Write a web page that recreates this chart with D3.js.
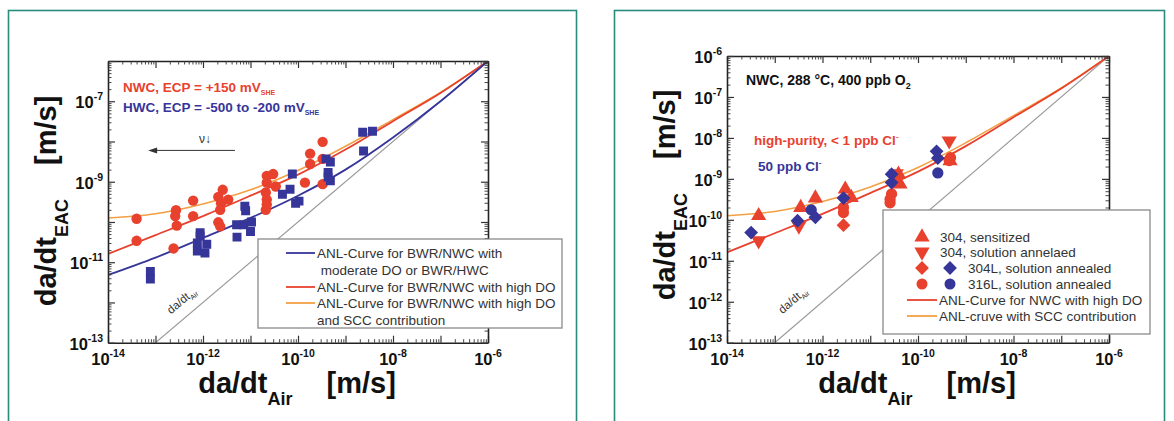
<!DOCTYPE html>
<html>
<head>
<meta charset="utf-8">
<script src="https://cdn.jsdelivr.net/npm/d3@7"></script>
<style>
body{margin:0;background:#fff;}
svg{display:block;font-family:"Liberation Sans",Arial,sans-serif;}
</style>
</head>
<body>
<script>
// values, in m/s
// left panel: crack growth data, NWC (red circles) and HWC (blue squares)
const nwcAir = [4.0e-14,4.0e-14,2.7e-13,2.6e-13,2.8e-13,2.4e-13,6.2e-13,6.2e-13,2.6e-12,2.1e-12,2.4e-12,2.3e-12,2.1e-12,2.3e-12,3.4e-12,
  2.2e-11,3.0e-11,2.1e-11,2.2e-11,2.2e-11,2.1e-11,3.4e-11,2.2e-11,1.8e-10,1.8e-10,1.4e-10,3.3e-10,3.3e-10,3.3e-10];
const nwcEac = [1.2e-10,3.4e-11,1.95e-10,1.4e-10,8.1e-11,2.2e-11,3.4e-10,1.4e-10,6.3e-10,4.2e-10,2.9e-10,2.0e-10,9.8e-11,7.8e-11,3.6e-10,
  1.4e-9,1.55e-9,5.4e-10,3.6e-10,2.7e-10,2.0e-10,7.6e-10,9.5e-10,5.0e-9,2.75e-9,9.5e-10,9.8e-9,3.7e-9,8.7e-10];
const hwcAir = [7.8e-14,7.8e-14,8.7e-13,8.7e-13,7.6e-13,7.6e-13,1.2e-12,1.1e-12,5.1e-12,5.2e-12,7.6e-12,7.9e-12,7.2e-12,1.05e-11,1.0e-11,
  4.7e-11,6.8e-11,7.6e-11,8.9e-11,1.05e-10,3.9e-10,4.8e-10,4.3e-10,4.3e-10,4.8e-10,2.3e-9,3.7e-9,2.4e-9];
const hwcEac = [5.9e-12,3.8e-12,5.4e-11,4.5e-11,3.0e-11,1.9e-11,2.8e-11,1.7e-11,8.5e-11,4.2e-11,2.45e-10,1.9e-10,8.5e-11,1.0e-10,5.8e-11,
  4.9e-10,6.5e-10,1.55e-9,2.9e-10,3.3e-10,3.7e-9,3.1e-9,1.7e-9,1.3e-9,1.05e-9,1.7e-8,1.8e-8,5.8e-9];

// ANL curves (read at each decade of da/dt_Air)
const curveAir = [1e-14,1e-13,1e-12,1e-11,1e-10,1e-9,1e-8,1e-7,1e-6];
const anlModerate = [4.8e-12,1.3e-11,4.0e-11,1.26e-10,4.5e-10,2.0e-9,1.26e-8,1.0e-7,1e-6];
const anlHighDO = [1.6e-11,4.7e-11,1.4e-10,4.5e-10,1.5e-9,6.3e-9,3.2e-8,1.6e-7,1e-6];
const anlSCC = [1.26e-10,1.6e-10,2.8e-10,6.3e-10,1.9e-9,7.6e-9,3.5e-8,1.66e-7,1e-6];
const diagLine = [1e-13,1e-6];

// right panel: 400 ppb O2 data
const s304sensAir = [4.6e-14,3.5e-13,7.1e-13,3.0e-12,4.0e-12,3.9e-11,4.2e-11,4.7e-10];
const s304sensEac = [1.26e-10,2.0e-10,3.4e-10,5.6e-10,3.5e-10,1.3e-9,7.4e-10,2.75e-9];
const s304solAir = [4.6e-14,3.2e-13,3.5e-11,4.5e-10];
const s304solEac = [3.1e-11,7.1e-11,1.35e-9,8.5e-9];
const s304LredAir = [2.75e-12];
const s304LredEac = [7.4e-11];
const s316LredAir = [2.75e-12,2.75e-12,2.8e-11,2.6e-11,2.6e-11,4.8e-10,4.5e-10];
const s316LredEac = [2.0e-10,1.5e-10,4.3e-10,3.2e-10,2.6e-10,3.3e-9,2.8e-9];
const s304LblueAir = [3.2e-14,3.0e-13,7.1e-13,2.75e-12,2.8e-11,2.8e-11,2.45e-10,2.6e-10];
const s304LblueEac = [4.9e-11,9.5e-11,1.15e-10,3.4e-10,1.3e-9,8.1e-10,4.7e-9,3.2e-9];
const s316LblueAir = [5.8e-13,2.6e-10];
const s316LblueEac = [1.75e-10,1.4e-9];

const leftXTicks = [1e-14,1e-12,1e-10,1e-8,1e-6];
const leftYTicks = [1e-13,1e-11,1e-9,1e-7];
const rightXTicks = [1e-14,1e-12,1e-10,1e-8,1e-6];
const rightYTicks = [1e-13,1e-12,1e-11,1e-10,1e-9,1e-8,1e-7,1e-6];

const RED = "#e8412e", BLUE = "#36359a", ORANGE = "#f2a043", GRAY = "#9a9a9a";

const svg = d3.select("body").append("svg").attr("width",1174).attr("height",421);

// teal frames
svg.append("rect").attr("x",8.5).attr("y",10.5).attr("width",568).attr("height",430)
  .attr("fill","#fff").attr("stroke","#2a8c7c").attr("stroke-width",1.6);
svg.append("rect").attr("x",614.5).attr("y",10.5).attr("width",550).attr("height",430)
  .attr("fill","#fff").attr("stroke","#2a8c7c").attr("stroke-width",1.6);

function decades(a,b){ const r=[]; for(let e=a;e<=b;e++) r.push(Math.pow(10,e)); return r; }
function minors(a,b){ const r=[]; for(let e=a;e<b;e++) for(let k=2;k<=9;k++) r.push(k*Math.pow(10,e)); return r; }
function expo(d){ return Math.round(Math.log10(d)); }

function powLabel(t,d,sup){
  t.append("tspan").text("10");
  t.append("tspan").attr("dy",-8).attr("font-size",sup).text(expo(d));
}

function makePanel(p){
  const g = svg.append("g").attr("transform",`translate(${p.x0},${p.y0})`);
  const w = p.x1-p.x0, h = p.y1-p.y0;
  const x = d3.scaleLog().domain([1e-14,1e-6]).range([0,w]);
  const y = d3.scaleLog().domain([1e-13,1e-6]).range([h,0]);

  const clipId = "clip"+p.id;
  g.append("clipPath").attr("id",clipId).append("rect").attr("width",w).attr("height",h);
  const plot = g.append("g").attr("clip-path",`url(#${clipId})`);

  // ticks on all sides, inward
  const xMaj = decades(-14,-6), yMaj = decades(-13,-6);
  const xMin = minors(-14,-6), yMin = minors(-13,-6);
  const axes = [
    [d3.axisBottom, x, xMaj, xMin, `translate(0,${h})`],
    [d3.axisTop, x, xMaj, xMin, "translate(0,0)"],
    [d3.axisLeft, y, yMaj, yMin, "translate(0,0)"],
    [d3.axisRight, y, yMaj, yMin, `translate(${w},0)`]
  ];
  axes.forEach(([ax,s,maj,mn,tr])=>{
    const a1 = g.append("g").attr("transform",tr)
      .call(ax(s).tickValues(mn).tickSize(-3.5).tickSizeOuter(0).tickFormat(""));
    a1.select(".domain").attr("stroke","#222").attr("stroke-width",1.6);
    a1.selectAll(".tick line").attr("stroke","#333").attr("stroke-width",0.9);
    const a2 = g.append("g").attr("transform",tr)
      .call(ax(s).tickValues(maj).tickSize(-7).tickSizeOuter(0).tickFormat(""));
    a2.select(".domain").remove();
    a2.selectAll(".tick line").attr("stroke","#333").attr("stroke-width",1.2);
  });

  // tick labels
  g.selectAll(".xlab").data(p.xTicks).join("text").attr("class","xlab")
    .attr("x",d=>x(d)).attr("y",h+22).attr("text-anchor","middle")
    .attr("font-size",16.5).attr("font-weight","bold").attr("fill","#111")
    .each(function(d){ powLabel(d3.select(this),d,10.5); });
  g.selectAll(".ylab").data(p.yTicks).join("text").attr("class","ylab")
    .attr("x",-5).attr("y",d=>y(d)+7).attr("text-anchor","end")
    .attr("font-size",16.5).attr("font-weight","bold").attr("fill","#111")
    .each(function(d){ powLabel(d3.select(this),d,10.5); });

  // axis titles
  const xt = g.append("text").attr("x",w/2+p.xtShift).attr("y",h+50).attr("text-anchor","middle")
    .attr("font-size",29).attr("font-weight","bold").attr("fill","#111");
  xt.append("tspan").text("da/dt");
  xt.append("tspan").attr("font-size",18).attr("dy",12).text("Air");
  xt.append("tspan").attr("dy",-12).attr("dx",34).text("[m/s]");
  const yt = g.append("text").attr("transform",`translate(${p.ytx},${p.yty}) rotate(-90)`)
    .attr("text-anchor","middle").attr("font-size",29).attr("font-weight","bold").attr("fill","#111");
  yt.append("tspan").text("da/dt");
  yt.append("tspan").attr("font-size",18).attr("dy",12).text("EAC");
  yt.append("tspan").attr("dy",-12).attr("dx",34).text("[m/s]");

  // reference line da/dt_EAC = da/dt_Air
  plot.append("path").datum(diagLine).attr("fill","none").attr("stroke",GRAY).attr("stroke-width",1.2)
    .attr("d",d3.line().x(d=>x(d)).y(d=>y(d)));
  const dl = x(p.diagLab[0]), dly = y(p.diagLab[1]);
  const ang = -Math.atan(( y(1e-13)-y(1e-12) )/( x(1e-12)-x(1e-13) ))*180/Math.PI;
  const dt = g.append("text").attr("transform",`translate(${dl},${dly}) rotate(${ang})`)
    .attr("text-anchor","middle").attr("font-size",11.5).attr("fill","#333");
  dt.append("tspan").text("da/dt");
  dt.append("tspan").attr("font-size",7).attr("dy",3).text("Air");

  return {g,plot,x,y,w,h};
}

function curve(P,xs,ys,color,wid){
  const pts = xs.map((d,i)=>[d,ys[i]]);
  P.plot.append("path").datum(pts).attr("fill","none").attr("stroke",color).attr("stroke-width",wid)
    .attr("d",d3.line().x(d=>P.x(d[0])).y(d=>P.y(d[1])).curve(d3.curveMonotoneX));
}

function marks(P,xs,ys,type,size,color,rot){
  const pts = xs.map((d,i)=>[d,ys[i]]);
  P.plot.selectAll(null).data(pts).join("path")
    .attr("transform",d=>`translate(${P.x(d[0])},${P.y(d[1])}) rotate(${rot||0})`)
    .attr("d",d3.symbol().type(type).size(size)).attr("fill",color);
}

// ---------- left panel ----------
const L = makePanel({id:"L",x0:108,x1:488,y0:61,y1:342.7,xTicks:leftXTicks,yTicks:leftYTicks,
  xtShift:-1,ytx:-52,yty:140,diagLab:[4.0e-13,9.5e-13]});
curve(L,curveAir,anlSCC,ORANGE,1.6);
curve(L,curveAir,anlHighDO,RED,1.8);
curve(L,curveAir,anlModerate,BLUE,1.8);
marks(L,nwcAir,nwcEac,d3.symbolCircle,85,RED);
marks(L,hwcAir,hwcEac,d3.symbolSquare,80,BLUE);

// arrow and notes
const ax0 = L.x(4.7e-12), ax1 = L.x(7e-14), ay = L.y(6e-9);
L.g.append("line").attr("x1",ax0).attr("x2",ax1+6).attr("y1",ay).attr("y2",ay).attr("stroke","#333").attr("stroke-width",1);
L.g.append("path").attr("d",`M${ax1},${ay}L${ax1+9},${ay-3}L${ax1+9},${ay+3}Z`).attr("fill","#333");
L.g.append("text").attr("x",L.x(1.1e-12)).attr("y",ay-7).attr("text-anchor","middle").attr("font-size",12).attr("fill","#333").text("ν↓");

const n1 = L.g.append("text").attr("x",15).attr("y",31).attr("font-size",13.5).attr("font-weight","bold").attr("fill",RED);
n1.append("tspan").text("NWC, ECP = +150 mV");
n1.append("tspan").attr("font-size",7).attr("dy",3).text("SHE");
const n2 = L.g.append("text").attr("x",15).attr("y",51).attr("font-size",13.5).attr("font-weight","bold").attr("fill",BLUE);
n2.append("tspan").text("HWC, ECP = -500 to -200 mV");
n2.append("tspan").attr("font-size",7).attr("dy",3).text("SHE");

// left legend
const lg = svg.append("g").attr("transform","translate(258,239)");
lg.append("rect").attr("width",304).attr("height",89).attr("fill","#fff").attr("stroke","#8a8a8a").attr("stroke-width",1.3);
const leftLegend = [
  {c:BLUE, y:14, lines:["ANL-Curve for BWR/NWC with"," moderate DO or BWR/HWC"]},
  {c:RED, y:48, lines:["ANL-Curve for BWR/NWC with high DO"]},
  {c:ORANGE, y:64, lines:["ANL-Curve for BWR/NWC with high DO","and SCC contribution"]}
];
leftLegend.forEach(e=>{
  lg.append("line").attr("x1",28).attr("x2",57).attr("y1",e.y).attr("y2",e.y).attr("stroke",e.c).attr("stroke-width",1.8);
  e.lines.forEach((s,i)=>{
    lg.append("text").attr("x",59).attr("y",e.y+4.5+i*17).attr("font-size",13.5).attr("fill","#333")
      .style("white-space","pre").text(s);
  });
});

// ---------- right panel ----------
const R = makePanel({id:"R",x0:727,x1:1109,y0:56,y1:342.7,xTicks:rightXTicks,yTicks:rightYTicks,
  xtShift:-1,ytx:-52,yty:139,diagLab:[2.7e-13,9.3e-13]});
curve(R,curveAir,anlSCC,ORANGE,1.6);
curve(R,curveAir,anlHighDO,RED,1.8);
marks(R,s304sensAir,s304sensEac,d3.symbolTriangle,100,RED);
marks(R,s304solAir,s304solEac,d3.symbolTriangle,100,RED,180);
marks(R,s304LredAir,s304LredEac,d3.symbolSquare,95,RED,45);
marks(R,s316LredAir,s316LredEac,d3.symbolCircle,100,RED);
marks(R,s304LblueAir,s304LblueEac,d3.symbolSquare,95,BLUE,45);
marks(R,s316LblueAir,s316LblueEac,d3.symbolCircle,100,BLUE);

const t1 = R.g.append("text").attr("x",19).attr("y",29).attr("font-size",14).attr("font-weight","bold").attr("fill","#111");
t1.append("tspan").text("NWC, 288 °C, 400 ppb O");
t1.append("tspan").attr("font-size",9).attr("dy",4).text("2");
const t2 = R.g.append("text").attr("x",27).attr("y",89).attr("font-size",13.5).attr("font-weight","bold").attr("fill",RED);
t2.append("tspan").text("high-purity, < 1 ppb Cl");
t2.append("tspan").attr("font-size",8).attr("dy",-6).text("-");
const t3 = R.g.append("text").attr("x",31).attr("y",115).attr("font-size",13.5).attr("font-weight","bold").attr("fill",BLUE);
t3.append("tspan").text("50 ppb Cl");
t3.append("tspan").attr("font-size",8).attr("dy",-6).text("-");

// right legend
const rg = svg.append("g").attr("transform","translate(883,210)");
rg.append("rect").attr("width",267).attr("height",124).attr("fill","#fff").attr("stroke","#8a8a8a").attr("stroke-width",1.3);
const rightLegend = [
  {y:27, marks:[[d3.symbolTriangle,RED,0]], tx:57, text:"304, sensitized"},
  {y:42, marks:[[d3.symbolTriangle,RED,180]], tx:57, text:"304, solution annelaed"},
  {y:58, marks:[[d3.symbolSquare,RED,45],[d3.symbolSquare,BLUE,45]], tx:85, text:"304L, solution annealed"},
  {y:74, marks:[[d3.symbolCircle,RED,0],[d3.symbolCircle,BLUE,0]], tx:85, text:"316L, solution annealed"}
];
rightLegend.forEach(e=>{
  e.marks.forEach((m,i)=>{
    rg.append("path").attr("transform",`translate(${39+i*28},${e.y}) rotate(${m[2]})`)
      .attr("d",d3.symbol().type(m[0]).size(m[0]===d3.symbolTriangle?100:95)).attr("fill",m[1]);
  });
  rg.append("text").attr("x",e.tx).attr("y",e.y+5).attr("font-size",13.5).attr("fill","#333").text(e.text);
});
[[RED,90,"ANL-Curve for NWC with high DO"],[ORANGE,106,"ANL-cruve with SCC contribution"]].forEach(([c,yy,s])=>{
  rg.append("line").attr("x1",24).attr("x2",54).attr("y1",yy).attr("y2",yy).attr("stroke",c).attr("stroke-width",1.8);
  rg.append("text").attr("x",56).attr("y",yy+4.5).attr("font-size",13.5).attr("fill","#333").text(s);
});
</script>
</body>
</html>
